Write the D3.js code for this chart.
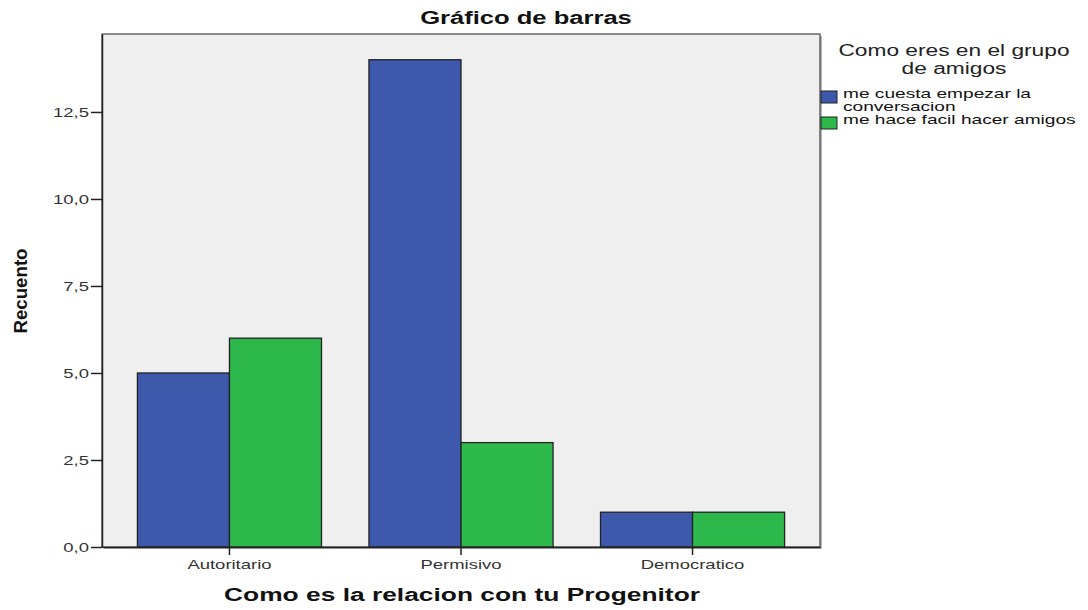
<!DOCTYPE html>
<meta charset="utf-8">
<script src="https://d3js.org/d3.v7.min.js"></script>
<style>
  body { margin: 0; background: #fff; }
  text { font-family: "Liberation Sans", Arial, sans-serif; }
</style>
<div id="my_dataviz"></div>
<script>

// data
var categories = ["Autoritario", "Permisivo", "Democratico"];
var series = ["me cuesta empezar la conversacion", "me hace facil hacer amigos"];
var cuestaValues = [5, 14, 1];
var facilValues = [6, 3, 1];
var yTicks = [0, 2.5, 5, 7.5, 10, 12.5];
var colors = ["#3e58ac", "#2db84b"];

var width = 1088, height = 610;
var margin = {top: 34, right: 268, bottom: 63, left: 102};
var plotW = width - margin.left - margin.right,
    plotH = height - margin.top - margin.bottom;

// the original looks horizontally stretched, so widen text the same way
var STRETCH = 1.42;
function stretch(sel, k) {
  sel.each(function() {
    var w = this.getComputedTextLength();
    d3.select(this).attr("textLength", w * (k || STRETCH)).attr("lengthAdjust", "spacingAndGlyphs");
  });
}

var svg = d3.select("#my_dataviz")
  .append("svg")
    .attr("width", width)
    .attr("height", height);

var g = svg.append("g")
    .attr("transform", "translate(" + margin.left + "," + margin.top + ")");

// scales
var x = d3.scaleBand()
  .domain(categories)
  .range([0, plotW])
  .paddingInner(0.205)
  .paddingOuter(0.153);

var xSub = d3.scaleBand()
  .domain(series)
  .range([0, x.bandwidth()]);

var y = d3.scaleLinear()
  .domain([0, 14.74])
  .range([plotH, 0]);

// plot background + frame shadow
g.append("rect")
  .attr("x", 2).attr("y", 2)
  .attr("width", plotW).attr("height", plotH)
  .attr("fill", "#b8b8b8");
g.append("rect")
  .attr("width", plotW).attr("height", plotH)
  .attr("fill", "#efefef")
  .attr("stroke", "#444")
  .attr("stroke-width", 1.2);

// bars
var rows = categories.map(function(c, i) {
  return {cat: c, vals: [cuestaValues[i], facilValues[i]]};
});

var grp = g.selectAll(".grp")
  .data(rows)
  .enter().append("g")
    .attr("transform", function(d) { return "translate(" + x(d.cat) + ",0)"; });

grp.selectAll("rect")
  .data(function(d) { return d.vals.map(function(v, j) { return {s: series[j], v: v, j: j}; }); })
  .enter().append("rect")
    .attr("x", function(d) { return xSub(d.s); })
    .attr("y", function(d) { return y(d.v); })
    .attr("width", xSub.bandwidth())
    .attr("height", function(d) { return plotH - y(d.v); })
    .attr("fill", function(d) { return colors[d.j]; })
    .attr("stroke", "#222")
    .attr("stroke-width", 1.3);

// y axis
var yAxis = g.append("g")
  .call(d3.axisLeft(y).tickValues(yTicks).tickSize(11).tickPadding(2).tickSizeOuter(0)
    .tickFormat(function(d) { return d3.format(".1f")(d).replace(".", ","); }));
yAxis.select(".domain").attr("stroke", "#222").attr("stroke-width", 1.5);
yAxis.selectAll(".tick line").attr("stroke", "#222").attr("stroke-width", 1.5);
yAxis.selectAll("text")
  .attr("font-family", "Liberation Sans, Arial, sans-serif")
  .attr("font-size", 13).attr("fill", "#333")
  .call(stretch);

// x axis
var xAxis = g.append("g")
  .attr("transform", "translate(0," + plotH + ")")
  .call(d3.axisBottom(x).tickSize(8).tickSizeOuter(0));
xAxis.select(".domain").attr("stroke", "#222").attr("stroke-width", 1.5);
xAxis.selectAll(".tick line").attr("stroke", "#222").attr("stroke-width", 1.5);
xAxis.selectAll("text")
  .attr("font-family", "Liberation Sans, Arial, sans-serif")
  .attr("font-size", 13).attr("fill", "#333").attr("y", 13)
  .call(stretch);

// title
svg.append("text")
  .attr("x", 526).attr("y", 24)
  .attr("text-anchor", "middle")
  .attr("font-size", 18).attr("font-weight", "bold").attr("fill", "#111")
  .text("Gráfico de barras")
  .call(stretch);

// x label
svg.append("text")
  .attr("x", 462).attr("y", 601)
  .attr("text-anchor", "middle")
  .attr("font-size", 18).attr("font-weight", "bold").attr("fill", "#111")
  .attr("textLength", 476).attr("lengthAdjust", "spacingAndGlyphs")
  .text("Como es la relacion con tu Progenitor");

// y label
svg.append("text")
  .attr("transform", "translate(27,291) rotate(-90)")
  .attr("text-anchor", "middle")
  .attr("font-size", 18).attr("font-weight", "bold").attr("fill", "#111")
  .attr("textLength", 85).attr("lengthAdjust", "spacingAndGlyphs")
  .text("Recuento");

// legend
var lg = svg.append("g");
["Como eres en el grupo", "de amigos"].forEach(function(t, k) {
  lg.append("text")
    .attr("x", 954).attr("y", 56 + k * 18)
    .attr("text-anchor", "middle")
    .attr("font-size", 16).attr("fill", "#222")
    .text(t)
    .call(stretch);
});

var legendY = [91, 117];
var legendLines = [["me cuesta empezar la", "conversacion"], ["me hace facil hacer amigos"]];
series.forEach(function(s, i) {
  lg.append("rect")
    .attr("x", 821).attr("y", legendY[i])
    .attr("width", 16).attr("height", 12)
    .attr("fill", colors[i])
    .attr("stroke", "#222").attr("stroke-width", 1);
  legendLines[i].forEach(function(t, k) {
    lg.append("text")
      .attr("x", 843).attr("y", legendY[i] + 7 + k * 13)
      .attr("font-size", 13).attr("fill", "#111")
      .text(t)
      .call(stretch, 1.47);
  });
});

</script>
